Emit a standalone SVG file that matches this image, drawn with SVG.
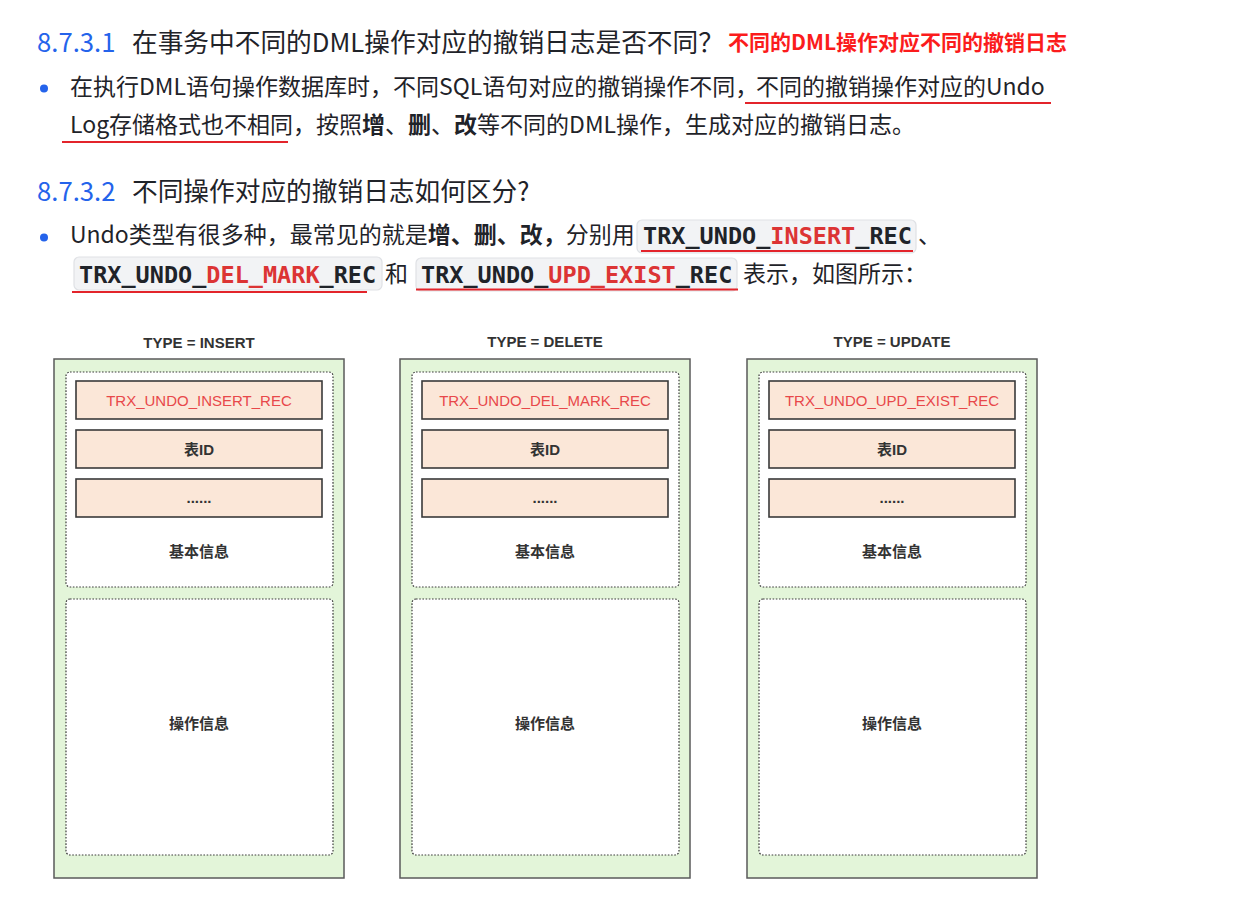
<svg xmlns="http://www.w3.org/2000/svg" width="1243" height="900" viewBox="0 0 1243 900">
<style>
.h{font-family:"Noto Sans CJK SC","Noto Sans",sans-serif;font-size:25.7px;fill:#1f2329}
.hn{fill:#2463eb}
.b{font-family:"Noto Sans CJK SC","Noto Sans",sans-serif;font-size:23px;fill:#1f2329}
.bb{font-weight:700}
.note{font-family:"Noto Sans CJK SC","Liberation Sans",sans-serif;font-size:21px;font-weight:700;fill:#fb1c1c}
.dot{fill:#2463eb}
.ul{stroke:#e3242b;stroke-width:2;fill:none}
.cbox{fill:#f2f3f5;stroke:#dfe1e5;stroke-width:1.2}
.code{font-family:"DejaVu Sans Mono","Liberation Mono",monospace;font-size:23.5px;font-weight:700;fill:#1f2329}
.cr{fill:#dc3434}
.outer{fill:#e3f5d9;stroke:#5a5a5a;stroke-width:1.5}
.inner{fill:#ffffff;stroke:#3c3c3c;stroke-width:1.2;stroke-dasharray:1.6 1.6}
.row{fill:#fbe7d8;stroke:#3a3a3a;stroke-width:1.6}
.title{font-family:"Liberation Sans","Noto Sans CJK SC",sans-serif;font-size:15px;font-weight:700;fill:#333333;text-anchor:middle}
.rt{font-family:"Liberation Sans","Noto Sans CJK SC",sans-serif;font-size:15px;fill:#e8484a;text-anchor:middle}
.lt{font-family:"Liberation Sans","Noto Sans CJK SC",sans-serif;font-size:15px;font-weight:700;fill:#333333;text-anchor:middle}
</style>
<rect width="1243" height="900" fill="#ffffff"/>

<g id="text-block">
<text class="h" x="37" y="52"><tspan class="hn">8.7.3.1</tspan><tspan x="132">在事务中不同的DML操作对应的撤销日志是否不同？</tspan></text>
<text class="note" x="728" y="50">不同的DML操作对应不同的撤销日志</text>
<circle class="dot" cx="44" cy="88.5" r="4"/>
<text class="b" x="70" y="95">在执行DML语句操作数据库时，不同SQL语句对应的撤销操作不同，</text>
<text class="b" x="756" y="95">不同的撤销操作对应的Undo</text>
<line class="ul" x1="745" y1="103" x2="1051" y2="103"/>
<text class="b" x="70" y="133">Log存储格式也不相同<tspan>，按照</tspan><tspan class="bb">增</tspan>、<tspan class="bb">删</tspan>、<tspan class="bb">改</tspan>等不同的DML操作，生成对应的撤销日志。</text>
<line class="ul" x1="62" y1="142" x2="288" y2="142"/>

<text class="h" x="37" y="201"><tspan class="hn">8.7.3.2</tspan><tspan x="132">不同操作对应的撤销日志如何区分?</tspan></text>
<circle class="dot" cx="44" cy="237.5" r="4"/>
<text class="b" x="70" y="243">Undo类型有很多种，最常见的就是<tspan class="bb">增、删、改，</tspan>分别用</text>
<rect class="cbox" x="637" y="220" width="279" height="33" rx="5"/>
<text class="code" x="643" y="244">TRX_UNDO_<tspan class="cr">INSERT</tspan>_REC</text>
<line class="ul" x1="641" y1="251" x2="913" y2="251"/>
<text class="b" x="918" y="243">、</text>
<rect class="cbox" x="74" y="257" width="308" height="33" rx="5"/>
<text class="code" x="79" y="283">TRX_UNDO_<tspan class="cr">DEL_MARK</tspan>_REC</text>
<line class="ul" x1="72" y1="292" x2="367" y2="292"/>
<text class="b" x="385" y="282">和</text>
<rect class="cbox" x="416" y="258" width="321" height="33" rx="5"/>
<text class="code" x="421" y="283">TRX_UNDO_<tspan class="cr">UPD_EXIST</tspan>_REC</text>
<line class="ul" x1="416" y1="289.5" x2="738" y2="289.5"/>
<text class="b" x="743" y="282">表示，如图所示：</text>
</g>

<g id="col-insert">
<text class="title" x="199" y="347.5">TYPE = INSERT</text>
<rect class="outer" x="54" y="359" width="290" height="519"/>
<g id="insert-basic">
<rect class="inner" x="66" y="372" width="267" height="215" rx="4"/>
<g id="insert-type"><rect class="row" x="76" y="381" width="246" height="38"/><text class="rt" x="199" y="406">TRX_UNDO_INSERT_REC</text></g>
<g id="insert-tableid"><rect class="row" x="76" y="430" width="246" height="38"/><text class="lt" x="199" y="455">表ID</text></g>
<g id="insert-more"><rect class="row" x="76" y="479" width="246" height="38"/><text class="lt" x="199" y="503">......</text></g>
<text class="lt" x="199" y="557">基本信息</text>
</g>
<g id="insert-op">
<rect class="inner" x="66" y="599" width="267" height="256" rx="4"/>
<text class="lt" x="199" y="729">操作信息</text>
</g>
</g>

<g id="col-delete">
<text class="title" x="545" y="347">TYPE = DELETE</text>
<rect class="outer" x="400" y="359" width="290" height="519"/>
<g id="delete-basic">
<rect class="inner" x="412" y="372" width="267" height="215" rx="4"/>
<g id="delete-type"><rect class="row" x="422" y="381" width="246" height="38"/><text class="rt" x="545" y="406">TRX_UNDO_DEL_MARK_REC</text></g>
<g id="delete-tableid"><rect class="row" x="422" y="430" width="246" height="38"/><text class="lt" x="545" y="455">表ID</text></g>
<g id="delete-more"><rect class="row" x="422" y="479" width="246" height="38"/><text class="lt" x="545" y="503">......</text></g>
<text class="lt" x="545" y="557">基本信息</text>
</g>
<g id="delete-op">
<rect class="inner" x="412" y="599" width="267" height="256" rx="4"/>
<text class="lt" x="545" y="729">操作信息</text>
</g>
</g>

<g id="col-update">
<text class="title" x="892" y="347">TYPE = UPDATE</text>
<rect class="outer" x="747" y="359" width="290" height="519"/>
<g id="update-basic">
<rect class="inner" x="759" y="372" width="267" height="215" rx="4"/>
<g id="update-type"><rect class="row" x="769" y="381" width="246" height="38"/><text class="rt" x="892" y="406">TRX_UNDO_UPD_EXIST_REC</text></g>
<g id="update-tableid"><rect class="row" x="769" y="430" width="246" height="38"/><text class="lt" x="892" y="455">表ID</text></g>
<g id="update-more"><rect class="row" x="769" y="479" width="246" height="38"/><text class="lt" x="892" y="503">......</text></g>
<text class="lt" x="892" y="557">基本信息</text>
</g>
<g id="update-op">
<rect class="inner" x="759" y="599" width="267" height="256" rx="4"/>
<text class="lt" x="892" y="729">操作信息</text>
</g>
</g>

<g id="connectors"/>
</svg>
